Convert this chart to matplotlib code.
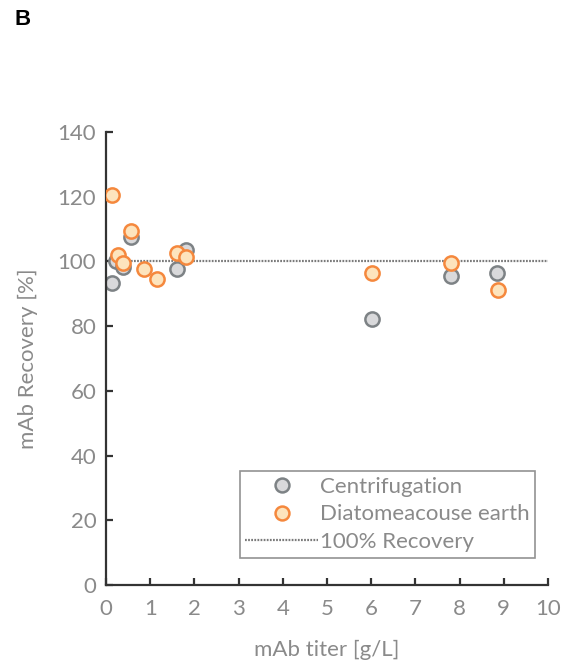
import matplotlib
matplotlib.use("Agg")
import matplotlib.pyplot as plt
from matplotlib.lines import Line2D

plt.rcParams['font.family'] = ['Lato', 'DejaVu Sans']

# Recovery data per harvest method
centri_titer = [0.13, 0.22, 0.39, 0.56, 1.61, 1.81, 6.02, 7.81, 8.85]
centri_recovery = [93.4, 100.0, 98.4, 107.6, 97.6, 103.5, 82.2, 95.5, 96.4]

de_titer = [0.13, 0.28, 0.39, 0.56, 0.86, 1.15, 1.61, 1.81, 6.01, 7.81, 8.86]
de_recovery = [120.5, 102.0, 99.4, 109.4, 97.6, 94.5, 102.7, 101.3, 96.3, 99.6, 91.2]

x_ticks = list(range(0, 11))
y_ticks = list(range(0, 141, 20))

label_grey = '#8a8a8a'
axis_dark = '#333333'

fig = plt.figure(figsize=(5.68, 6.64), dpi=100)
ax = fig.add_axes([0.1866, 0.119, 0.7782, 0.6822])

ref_line, = ax.plot([0, 10], [100, 100], color='#7a7a7a', lw=1.6,
                    linestyle=(0, (0.8, 0.6)), zorder=1)
ax.scatter(centri_titer, centri_recovery, s=105, facecolor='#d9d9db',
           edgecolor='#7d8285', linewidth=1.8, zorder=2)
ax.scatter(de_titer, de_recovery, s=105, facecolor='#fde4bd',
           edgecolor='#f5883d', linewidth=1.8, zorder=3)

ax.set_xlim(0, 10)
ax.set_ylim(0, 140)
ax.set_xticks(x_ticks)
ax.set_yticks(y_ticks)
ax.spines['top'].set_visible(False)
ax.spines['right'].set_visible(False)
for s in ('left', 'bottom'):
    ax.spines[s].set_color(axis_dark)
    ax.spines[s].set_linewidth(1.6)
ax.tick_params(direction='in', length=5, width=1.6, color=axis_dark,
               labelcolor=label_grey, labelsize=16)
ax.tick_params(axis='x', pad=10)
ax.tick_params(axis='y', pad=7)

ax.set_xlabel('mAb titer [g/L]', color=label_grey, fontsize=16)
ax.set_ylabel('mAb Recovery [%]', color=label_grey, fontsize=16)
ax.xaxis.set_label_coords(0.5, -0.122)
ax.yaxis.set_label_coords(-0.154, 0.5)

handles = [
    Line2D([], [], marker='o', ls='none', ms=10, mfc='#d9d9db', mec='#7d8285', mew=1.8),
    Line2D([], [], marker='o', ls='none', ms=10, mfc='#fde4bd', mec='#f5883d', mew=1.8),
    Line2D([], [], color='#7a7a7a', lw=1.6, linestyle=(0, (0.8, 0.6))),
]
leg = ax.legend(handles, ['Centrifugation', 'Diatomeacouse earth', '100% Recovery'],
                loc='lower right', bbox_to_anchor=(0.97, 0.06), fontsize=16,
                labelcolor=label_grey, frameon=True, fancybox=False,
                handlelength=3.3, handletextpad=0.05, labelspacing=0.35,
                borderpad=0.25, borderaxespad=0.0)
leg.get_frame().set_edgecolor('#777777')
leg.get_frame().set_linewidth(1.2)

fig.text(0.026, 0.970, 'B', fontsize=16, fontweight='bold',
         family=['Liberation Sans', 'DejaVu Sans'], va='center', ha='left')

fig.savefig('out.png', dpi=100)
